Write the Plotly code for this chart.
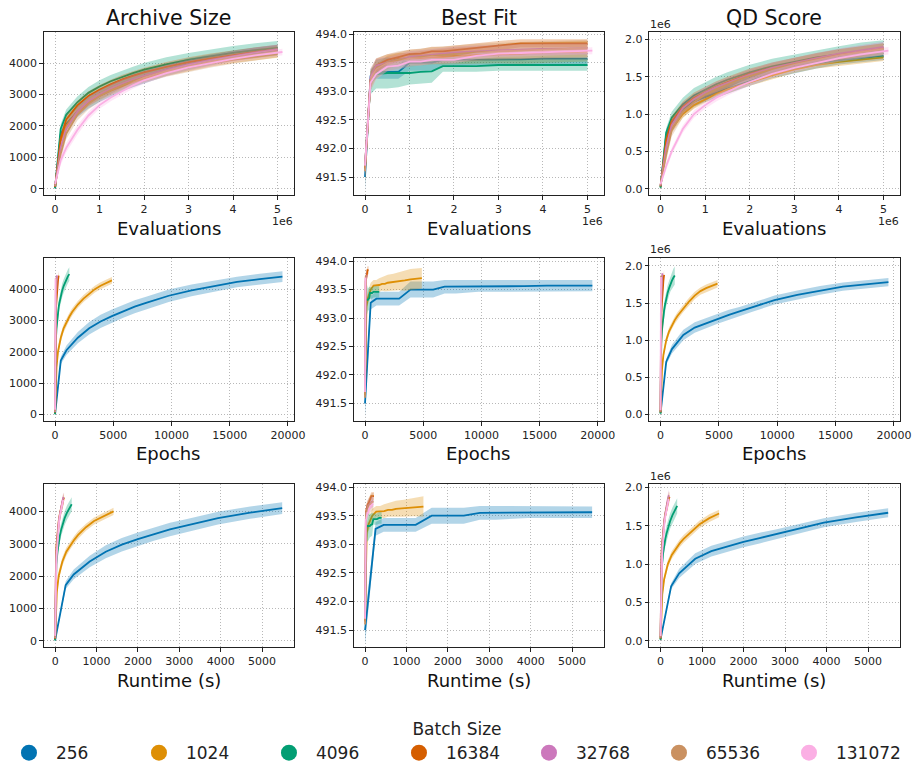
import plotly.graph_objects as go

# ---------------- data ----------------
batch_sizes = [256, 1024, 4096, 16384, 32768, 65536, 131072]
colors = ['#0173b2', '#de8f05', '#029e73', '#d55e00', '#cc78bc', '#ca9161', '#fbafe4']

# evaluation checkpoints (millions); last one per batch given in final_evals_m
evals_m = [0, 0.125, 0.25, 0.5, 0.75, 1.0, 1.25, 1.5, 1.75, 2.0, 2.5, 3.0, 3.5, 4.0, 4.5, 5.0]
final_evals_m = [5.0, 5.0, 5.0, 5.0, 5.0, 5.0, 5.11]

# runtime (s) at each checkpoint (runtime panels stop where the list stops)
runtime_256 = [0, 254, 448, 835, 1223, 1610, 1998, 2385, 2773, 3160, 3935, 4710, 5485]
runtime_1024 = [0, 40, 85, 175, 270, 365, 460, 555, 650, 745, 940, 1175, 1410]
runtime_4096 = [0, 14, 29, 57, 86, 114, 143, 171, 200, 229, 286, 343, 400]
runtime_16384 = [0, 5, 11, 22, 32, 43, 54, 65, 75, 86, 108, 129, 151, 172, 194, 215]
runtime_32768 = [0, 5, 10, 20, 30, 40, 50, 60, 70, 80, 100, 120, 140, 160, 180, 200]
runtime_65536 = [0, 5, 10, 20, 30, 40, 50, 60, 70, 80, 100, 120, 140, 160, 180, 200]
runtime_131072 = [0, 5, 10, 19, 29, 38, 48, 57, 67, 76, 95, 114, 133, 152, 171, 194]

# Archive size: mean and half band
archive_256 = [20, 1720, 2050, 2450, 2750, 2970, 3140, 3300, 3440, 3560, 3790, 3960, 4100, 4230, 4320, 4400]
archive_1024 = [30, 1500, 2000, 2450, 2750, 2950, 3120, 3270, 3400, 3510, 3700, 3860, 4000, 4110, 4200, 4280]
archive_4096 = [10, 1900, 2350, 2750, 3050, 3250, 3420, 3560, 3680, 3790, 3960, 4100, 4220, 4320, 4410, 4480]
archive_16384 = [60, 1600, 2200, 2650, 2950, 3150, 3320, 3470, 3590, 3700, 3880, 4030, 4150, 4260, 4350, 4430]
archive_32768 = [80, 1300, 1900, 2450, 2780, 3000, 3180, 3340, 3470, 3590, 3790, 3960, 4100, 4230, 4340, 4440]
archive_65536 = [100, 1100, 1750, 2350, 2700, 2950, 3130, 3290, 3420, 3540, 3740, 3900, 4040, 4160, 4270, 4360]
archive_131072 = [150, 900, 1300, 1870, 2330, 2660, 2900, 3100, 3290, 3450, 3680, 3860, 4000, 4130, 4240, 4350]
archive_band_256 = [30, 120, 150, 180, 200, 210, 210, 210, 210, 200, 200, 190, 180, 170, 170, 170]
archive_band_1024 = [30, 150, 150, 140, 130, 120, 120, 120, 110, 110, 110, 110, 110, 110, 110, 110]
archive_band_4096 = [20, 150, 170, 180, 190, 200, 200, 200, 200, 210, 220, 220, 220, 220, 220, 220]
archive_band_16384 = [40, 150, 150, 150, 150, 150, 150, 150, 150, 150, 150, 150, 150, 150, 150, 150]
archive_band_32768 = [40, 150, 150, 150, 150, 150, 150, 150, 150, 150, 150, 150, 150, 150, 150, 150]
archive_band_65536 = [50, 180, 180, 180, 180, 180, 180, 180, 180, 180, 180, 180, 180, 180, 180, 180]
archive_band_131072 = [60, 150, 150, 150, 130, 120, 120, 120, 110, 110, 100, 100, 100, 100, 100, 100]

# Best fitness: mean and half band
best_256 = [491.5, 493.27, 493.34, 493.34, 493.34, 493.5, 493.5, 493.5, 493.55, 493.55, 493.56, 493.56, 493.56, 493.57, 493.57, 493.57]
best_1024 = [491.7, 493.2, 493.35, 493.5, 493.57, 493.57, 493.58, 493.6, 493.6, 493.62, 493.63, 493.65, 493.66, 493.68, 493.69, 493.7]
best_4096 = [491.7, 493.15, 493.3, 493.32, 493.32, 493.32, 493.34, 493.35, 493.44, 493.44, 493.44, 493.46, 493.46, 493.46, 493.46, 493.46]
best_16384 = [491.65, 493.2, 493.45, 493.55, 493.6, 493.65, 493.66, 493.7, 493.7, 493.72, 493.77, 493.8, 493.84, 493.84, 493.84, 493.84]
best_32768 = [491.7, 493.25, 493.45, 493.5, 493.55, 493.6, 493.62, 493.64, 493.66, 493.68, 493.7, 493.72, 493.73, 493.74, 493.75, 493.75]
best_65536 = [491.6, 493.2, 493.4, 493.5, 493.55, 493.58, 493.6, 493.62, 493.64, 493.65, 493.68, 493.7, 493.72, 493.73, 493.74, 493.75]
best_131072 = [491.7, 493.15, 493.3, 493.43, 493.45, 493.52, 493.52, 493.55, 493.55, 493.55, 493.62, 493.66, 493.67, 493.68, 493.7, 493.71]
best_band_256 = [0.25, 0.12, 0.12, 0.12, 0.12, 0.14, 0.14, 0.14, 0.12, 0.12, 0.1, 0.1, 0.1, 0.1, 0.1, 0.1]
best_band_1024 = [0.2, 0.15, 0.12, 0.12, 0.1, 0.1, 0.12, 0.12, 0.13, 0.14, 0.15, 0.16, 0.18, 0.18, 0.18, 0.18]
best_band_4096 = [0.3, 0.2, 0.25, 0.27, 0.25, 0.2, 0.2, 0.2, 0.1, 0.1, 0.1, 0.1, 0.1, 0.1, 0.1, 0.1]
best_band_16384 = [0.2, 0.15, 0.12, 0.1, 0.08, 0.08, 0.08, 0.08, 0.08, 0.08, 0.08, 0.08, 0.07, 0.07, 0.07, 0.07]
best_band_32768 = [0.2, 0.15, 0.12, 0.1, 0.1, 0.1, 0.1, 0.1, 0.1, 0.1, 0.1, 0.1, 0.1, 0.1, 0.1, 0.1]
best_band_65536 = [0.25, 0.2, 0.18, 0.15, 0.15, 0.15, 0.15, 0.15, 0.15, 0.15, 0.15, 0.15, 0.15, 0.15, 0.15, 0.15]
best_band_131072 = [0.2, 0.12, 0.1, 0.08, 0.08, 0.07, 0.07, 0.07, 0.06, 0.06, 0.06, 0.06, 0.06, 0.06, 0.06, 0.06]

# QD score (x1e6): mean and half band
qd_256 = [0.02, 0.71, 0.88, 1.07, 1.17, 1.23, 1.29, 1.34, 1.39, 1.44, 1.54, 1.61, 1.67, 1.72, 1.75, 1.78]
qd_1024 = [0.02, 0.6, 0.8, 1.0, 1.12, 1.2, 1.27, 1.33, 1.38, 1.43, 1.52, 1.6, 1.66, 1.7, 1.73, 1.76]
qd_4096 = [0.01, 0.75, 0.95, 1.13, 1.25, 1.33, 1.4, 1.46, 1.51, 1.56, 1.64, 1.7, 1.76, 1.8, 1.84, 1.87]
qd_16384 = [0.03, 0.65, 0.9, 1.1, 1.22, 1.3, 1.37, 1.43, 1.49, 1.54, 1.62, 1.69, 1.75, 1.8, 1.84, 1.88]
qd_32768 = [0.04, 0.55, 0.85, 1.08, 1.2, 1.29, 1.36, 1.42, 1.48, 1.53, 1.62, 1.69, 1.75, 1.81, 1.86, 1.9]
qd_65536 = [0.05, 0.45, 0.78, 1.03, 1.16, 1.26, 1.33, 1.4, 1.46, 1.51, 1.6, 1.67, 1.73, 1.79, 1.83, 1.87]
qd_131072 = [0.06, 0.3, 0.5, 0.8, 1.0, 1.12, 1.22, 1.3, 1.37, 1.43, 1.54, 1.62, 1.69, 1.75, 1.8, 1.85]
qd_band_256 = [0.01, 0.04, 0.06, 0.07, 0.07, 0.07, 0.07, 0.07, 0.06, 0.06, 0.06, 0.06, 0.06, 0.055, 0.055, 0.055]
qd_band_1024 = [0.01, 0.04, 0.05, 0.05, 0.05, 0.05, 0.05, 0.05, 0.05, 0.05, 0.05, 0.05, 0.05, 0.05, 0.05, 0.05]
qd_band_4096 = [0.01, 0.06, 0.08, 0.09, 0.1, 0.1, 0.1, 0.1, 0.1, 0.1, 0.1, 0.1, 0.1, 0.11, 0.12, 0.12]
qd_band_16384 = [0.02, 0.07, 0.07, 0.07, 0.07, 0.07, 0.07, 0.07, 0.07, 0.07, 0.07, 0.07, 0.07, 0.07, 0.07, 0.07]
qd_band_32768 = [0.02, 0.07, 0.07, 0.07, 0.07, 0.07, 0.07, 0.07, 0.07, 0.07, 0.07, 0.07, 0.07, 0.07, 0.07, 0.07]
qd_band_65536 = [0.02, 0.08, 0.08, 0.08, 0.08, 0.08, 0.08, 0.08, 0.08, 0.08, 0.08, 0.08, 0.08, 0.08, 0.08, 0.08]
qd_band_131072 = [0.02, 0.05, 0.05, 0.05, 0.05, 0.05, 0.05, 0.05, 0.05, 0.05, 0.05, 0.05, 0.05, 0.05, 0.05, 0.05]

metric_titles = ['Archive Size', 'Best Fit', 'QD Score']
row_labels = ['Evaluations', 'Epochs', 'Runtime (s)']

runtimes = [runtime_256, runtime_1024, runtime_4096, runtime_16384, runtime_32768, runtime_65536, runtime_131072]
means = {
    'archive': [archive_256, archive_1024, archive_4096, archive_16384, archive_32768, archive_65536, archive_131072],
    'best': [best_256, best_1024, best_4096, best_16384, best_32768, best_65536, best_131072],
    'qd': [qd_256, qd_1024, qd_4096, qd_16384, qd_32768, qd_65536, qd_131072],
}
bands = {
    'archive': [archive_band_256, archive_band_1024, archive_band_4096, archive_band_16384, archive_band_32768, archive_band_65536, archive_band_131072],
    'best': [best_band_256, best_band_1024, best_band_4096, best_band_16384, best_band_32768, best_band_65536, best_band_131072],
    'qd': [qd_band_256, qd_band_1024, qd_band_4096, qd_band_16384, qd_band_32768, qd_band_65536, qd_band_131072],
}
metric_keys = ['archive', 'best', 'qd']
metric_scale = {'archive': 1.0, 'best': 1.0, 'qd': 1e6}

# ---------------- layout geometry ----------------
W, H = 922, 771   # slightly taller than the window so the legend sits low
col_px = [(44.3, 297.7), (358.3, 611.7), (657.7, 911.7)]
row_px = [(28.3, 192.3), (255.0, 419.3), (482.7, 646.7)]

FONT = 'DejaVu Sans'


def px_x(v):
    return v / W


def px_y(v):
    return 1 - v / H


def rgba(hex_color, a):
    h = hex_color.lstrip('#')
    return 'rgba(%d,%d,%d,%s)' % (int(h[0:2], 16), int(h[2:4], 16), int(h[4:6], 16), a)


fig = go.Figure()

x_ranges = [[-0.2555e6, 5.3655e6], [-977, 20508], [-276, 5766]]
y_ranges = {
    'archive': [[-211, 4982], [-212, 5005], [-205, 4840]],
    'best': [[491.18, 494.035], [491.19, 494.06], [491.20, 494.05]],
    'qd': [[-0.089e6, 2.098e6], [-0.089e6, 2.11e6], [-0.087e6, 2.043e6]],
}
x_ticks = [
    ([0, 1e6, 2e6, 3e6, 4e6, 5e6], ['0', '1', '2', '3', '4', '5']),
    ([0, 5000, 10000, 15000, 20000], ['0', '5000', '10000', '15000', '20000']),
    ([0, 1000, 2000, 3000, 4000, 5000], ['0', '1000', '2000', '3000', '4000', '5000']),
]
y_ticks = {
    'archive': ([0, 1000, 2000, 3000, 4000], ['0', '1000', '2000', '3000', '4000']),
    'best': ([491.5, 492.0, 492.5, 493.0, 493.5, 494.0], ['491.5', '492.0', '492.5', '493.0', '493.5', '494.0']),
    'qd': ([0, 0.5e6, 1.0e6, 1.5e6, 2.0e6], ['0.0', '0.5', '1.0', '1.5', '2.0']),
}

annotations = []
ax_idx = 0
for r in range(3):
    for c in range(3):
        ax_idx += 1
        key = metric_keys[c]
        xname = 'x' if ax_idx == 1 else 'x%d' % ax_idx
        yname = 'y' if ax_idx == 1 else 'y%d' % ax_idx
        for b, bs in enumerate(batch_sizes):
            ev = evals_m[:-1] + [final_evals_m[b]]
            m = means[key][b]
            hw = bands[key][b]
            sc = metric_scale[key]
            if r == 0:
                xs = [e * 1e6 for e in ev]
            elif r == 1:
                xs = [e * 1e6 / bs for e in ev]
            else:
                xs = list(runtimes[b])
            n = len(xs)
            ys = [v * sc for v in m[:n]]
            lo = [(v - h) * sc for v, h in zip(m[:n], hw[:n])]
            hi = [(v + h) * sc for v, h in zip(m[:n], hw[:n])]
            fig.add_trace(go.Scatter(
                x=xs + xs[::-1], y=hi + lo[::-1], fill='toself',
                fillcolor=rgba(colors[b], 0.3), line=dict(width=0),
                mode='lines', hoverinfo='skip', showlegend=False,
                xaxis=xname, yaxis=yname))
            fig.add_trace(go.Scatter(
                x=xs, y=ys, mode='lines', line=dict(color=colors[b], width=1.8),
                showlegend=False, xaxis=xname, yaxis=yname))

        x0, x1 = col_px[c]
        t, btm = row_px[r]
        xd = [px_x(x0), px_x(x1)]
        yd = [px_y(btm), px_y(t)]
        common = dict(showline=True, linecolor='#222', linewidth=1, mirror=True,
                      ticks='outside', ticklen=3.5, tickwidth=0.8, tickcolor='#222',
                      showgrid=True, gridcolor='#b8b8b8', griddash='1px,2px',
                      gridwidth=0.8, zeroline=False,
                      tickfont=dict(family=FONT, size=11, color='#222'))
        xa = dict(domain=xd, anchor=yname, range=x_ranges[r],
                  tickmode='array', tickvals=x_ticks[r][0], ticktext=x_ticks[r][1], **common)
        ya = dict(domain=yd, anchor=xname, range=y_ranges[key][r],
                  tickmode='array', tickvals=y_ticks[key][0], ticktext=y_ticks[key][1], **common)
        fig.layout['xaxis' if ax_idx == 1 else 'xaxis%d' % ax_idx] = xa
        fig.layout['yaxis' if ax_idx == 1 else 'yaxis%d' % ax_idx] = ya

        annotations.append(dict(text=row_labels[r], x=px_x((x0 + x1) / 2), y=px_y(btm + 33),
                                xref='paper', yref='paper', xanchor='center', yanchor='middle',
                                showarrow=False, font=dict(family=FONT, size=18, color='#111')))
        if r == 0:
            annotations.append(dict(text=metric_titles[c], x=px_x((x0 + x1) / 2), y=px_y(14.5),
                                    xref='paper', yref='paper', xanchor='center', yanchor='middle',
                                    borderpad=0,
                                    showarrow=False, font=dict(family=FONT, size=20.5, color='#111')))
            annotations.append(dict(text='1e6', x=px_x(x1 + 1), y=px_y(btm + 26),
                                    xref='paper', yref='paper', xanchor='right', yanchor='middle',
                                    showarrow=False, font=dict(family=FONT, size=11, color='#222')))
        if c == 2:
            annotations.append(dict(text='1e6', x=px_x(x0 - 1), y=px_y(t - 8),
                                    xref='paper', yref='paper', xanchor='left', yanchor='middle',
                                    showarrow=False, font=dict(family=FONT, size=11, color='#222')))

# legend entries
for b, bs in enumerate(batch_sizes):
    fig.add_trace(go.Scatter(x=[None], y=[None], mode='markers', name=str(bs),
                             marker=dict(color=colors[b], size=16), showlegend=True))

fig.update_layout(
    width=W, height=H, margin=dict(l=0, r=0, t=0, b=0),
    paper_bgcolor='white', plot_bgcolor='white',
    annotations=annotations,
    legend=dict(orientation='h', x=px_x(2), xanchor='left', y=0.0, yanchor='bottom',
                title=dict(text='Batch Size', side='top center', font=dict(family=FONT, size=17, color='#222')),
                font=dict(family=FONT, size=17, color='#222'),
                itemwidth=44, entrywidth=71, entrywidthmode='pixels', itemsizing='trace',
                bgcolor='rgba(0,0,0,0)'),
)

fig.write_html('out.html', config={'displayModeBar': False},
               post_script="document.body.style.margin='0px';")
